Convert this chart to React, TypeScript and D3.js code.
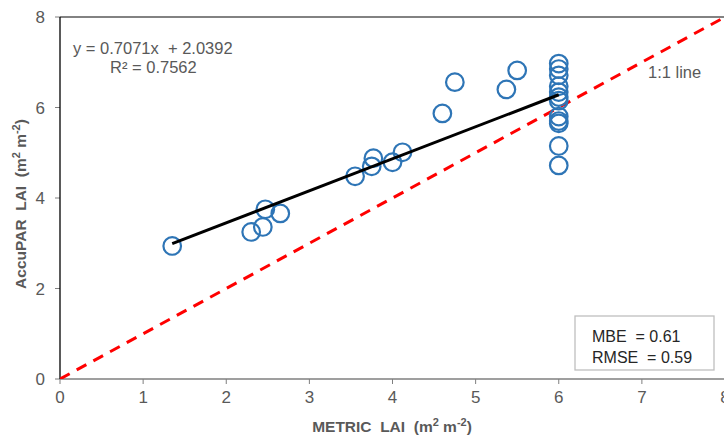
import React from "react";
import * as d3 from "d3";

const metricLAI = [1.35, 2.3, 2.44, 2.47, 2.65, 3.55, 3.75, 3.77, 4.0, 4.12, 4.6, 4.75, 5.37, 5.5, 6, 6, 6, 6, 6, 6, 6, 6, 6, 6, 6, 6];
const accuparLAI = [2.94, 3.25, 3.36, 3.75, 3.66, 4.48, 4.7, 4.88, 4.79, 5.01, 5.87, 6.56, 6.4, 6.82, 6.97, 6.85, 6.71, 6.47, 6.34, 6.23, 6.15, 5.8, 5.7, 5.65, 5.15, 4.72];
const xTicks = [0, 1, 2, 3, 4, 5, 6, 7, 8];
const yTicks = [0, 2, 4, 6, 8];
const slope = 0.7071;
const intercept = 2.0392;
const fitRange = [1.35, 6];
const oneToOne = [0, 8];

const W = 724;
const H = 435;

export default function App() {
  const x = d3.scaleLinear().domain([0, 8]).range([60, 725]);
  const y = d3.scaleLinear().domain([0, 8]).range([379, 17]);
  const font = "'Liberation Sans', Arial, sans-serif";
  const grey = "#595959";
  const line = d3.line<[number, number]>().x((d) => x(d[0])).y((d) => y(d[1]));
  const fitPts: [number, number][] = fitRange.map((v) => [v, slope * v + intercept]);
  const oneLine: [number, number][] = oneToOne.map((v) => [v, v]);

  return (
    <svg width={W} height={H} style={{ position: "absolute", left: 0, top: 0, background: "#fff" }} fontFamily={font}>
      <defs>
        <clipPath id="plotclip">
          <rect x={x(0)} y={y(8)} width={x(8) - x(0)} height={y(0) - y(8)} />
        </clipPath>
      </defs>
      <rect x={0} y={0} width={W} height={H} fill="#fff" />
      {/* top border */}
      <line x1={x(0)} x2={W} y1={y(8)} y2={y(8)} stroke="#595959" strokeWidth={1.3} />
      {/* x axis */}
      <line x1={x(0)} x2={W} y1={y(0)} y2={y(0)} stroke="#7f7f7f" strokeWidth={1.5} />
      {xTicks.map((t) => (
        <g key={"xt" + t}>
          <line x1={x(t)} x2={x(t)} y1={y(0)} y2={y(0) + 5} stroke="#7f7f7f" strokeWidth={1} />
          <text x={x(t)} y={403} textAnchor="middle" fontSize={17} fill={grey}>{t}</text>
        </g>
      ))}
      {/* y axis */}
      {yTicks.map((t) => (
        <g key={"yt" + t}>
          <line x1={x(0) - 5} x2={x(0)} y1={y(t)} y2={y(t)} stroke="#7f7f7f" strokeWidth={1} />
          <text x={45} y={y(t) + 6} textAnchor="end" fontSize={17} fill={grey}>{t}</text>
        </g>
      ))}
      <line x1={x(0)} x2={x(0)} y1={y(8)} y2={y(0)} stroke="#000" strokeWidth={1.3} />
      {/* axis titles */}
      <text x={392} y={432} textAnchor="middle" fontSize={15.5} fontWeight="bold" fill={grey} xmlSpace="preserve">
        METRIC  LAI  (m<tspan fontSize={11} dy={-6}>2</tspan><tspan dy={6}> m</tspan><tspan fontSize={11} dy={-6}>-2</tspan><tspan dy={6}>)</tspan>
      </text>
      <text transform={`translate(26,204) rotate(-90)`} textAnchor="middle" fontSize={15.5} fontWeight="bold" fill={grey} xmlSpace="preserve">
        AccuPAR  LAI  (m<tspan fontSize={11} dy={-6}>2</tspan><tspan dy={6}> m</tspan><tspan fontSize={11} dy={-6}>-2</tspan><tspan dy={6}>)</tspan>
      </text>
      {/* 1:1 line */}
      <path d={line(oneLine) || ""} fill="none" stroke="#ff0000" strokeWidth={3} strokeDasharray="11 8" clipPath="url(#plotclip)" />
      {/* points */}
      {metricLAI.map((v, i) => (
        <circle key={"p" + i} cx={x(v)} cy={y(accuparLAI[i])} r={8.8} fill="none" stroke="#2e75b6" strokeWidth={2.2} />
      ))}
      {/* fit line */}
      <path d={line(fitPts) || ""} fill="none" stroke="#000" strokeWidth={3} />
      {/* equation */}
      <text x={73} y={54} fontSize={16.5} fill={grey} xmlSpace="preserve">y = 0.7071x  + 2.0392</text>
      <text x={110} y={73} fontSize={16.5} fill={grey} xmlSpace="preserve">R² = 0.7562</text>
      <text x={648} y={78} fontSize={16.5} fill={grey}>1:1 line</text>
      {/* stats box */}
      <rect x={575} y={316} width={139} height={54} fill="#fff" stroke="#bfbfbf" strokeWidth={1.3} />
      <text x={592} y={342} fontSize={16} fill="#262626" xmlSpace="preserve">MBE  = 0.61</text>
      <text x={592} y={363} fontSize={16} fill="#262626" xmlSpace="preserve">RMSE  = 0.59</text>
    </svg>
  );
}
